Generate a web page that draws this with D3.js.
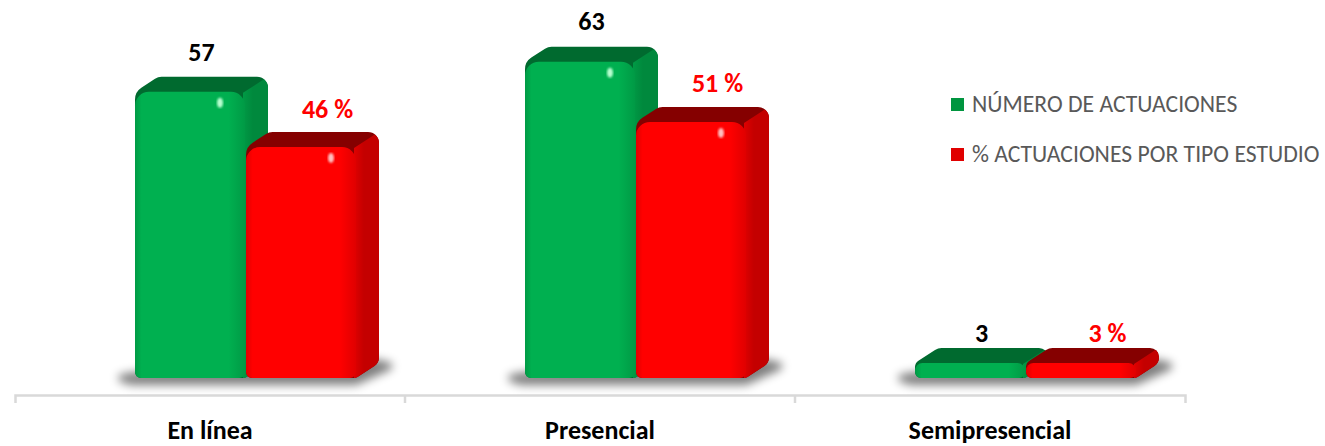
<!DOCTYPE html>
<html>
<head>
<meta charset="utf-8">
<script src="https://cdn.jsdelivr.net/npm/d3@7"></script>
<style>
  body { margin: 0; background: #fff; }
  svg { display: block; font-family: Carlito, Calibri, Lato, sans-serif; }
</style>
</head>
<body>
<svg id="chart" width="1325" height="446"></svg>
<script>
// data
var categories = ["En línea", "Presencial", "Semipresencial"];
var actuaciones = [57, 63, 3];
var porcentaje = [46, 51, 3];
var seriesNames = ["NÚMERO DE ACTUACIONES", "% ACTUACIONES POR TIPO ESTUDIO"];

var svg = d3.select("#chart"),
    base = 378,          // bottom of the bars
    axisY = 395,
    barW = 110,
    dx = 23, dy = 15;    // depth of the 3d look

var x = d3.scaleBand().domain(categories).range([15, 1185]);
var y = d3.scaleLinear().domain([0, 70]).range([base, 26.6]);
// excel puts the labels a bit off the bar tops, this follows it roughly
var labelY = d3.scaleLinear().domain([0, 70]).range([358, -7]);

var series = [
  {name: seriesNames[0], values: actuaciones, suffix: "", text: "#000",
   front: "#00b050", frontDark: "#009a45", side: "#00893d", cap: "#006a2f",
   spot: "#b8ffd0", legend: "#00953f", offset: 0, labelShift: 0},
  {name: seriesNames[1], values: porcentaje, suffix: " %", text: "#ff0000",
   front: "#ff0000", frontDark: "#e00000", side: "#c40000", cap: "#850000",
   spot: "#ffc0c0", legend: "#e00000", offset: 111, labelShift: 15}
];

var defs = svg.append("defs");
defs.append("filter").attr("id", "shadowBlur").attr("x", "-20%").attr("y", "-100%")
    .attr("width", "140%").attr("height", "300%")
  .append("feGaussianBlur").attr("stdDeviation", 5);
defs.append("filter").attr("id", "spotBlur")
  .append("feGaussianBlur").attr("stdDeviation", 1.1);

series.forEach(function(s, i) {
  var fg = defs.append("linearGradient").attr("id", "front" + i)
      .attr("x1", 0).attr("x2", 1).attr("y1", 0).attr("y2", 0);
  fg.append("stop").attr("offset", "0%").attr("stop-color", s.frontDark);
  fg.append("stop").attr("offset", "6%").attr("stop-color", s.front);
  fg.append("stop").attr("offset", "85%").attr("stop-color", s.front);
  fg.append("stop").attr("offset", "100%").attr("stop-color", s.frontDark);
  var sg = defs.append("linearGradient").attr("id", "side" + i)
      .attr("x1", 0).attr("x2", 1).attr("y1", 0).attr("y2", 0);
  sg.append("stop").attr("offset", "0%").attr("stop-color", s.frontDark);
  sg.append("stop").attr("offset", "30%").attr("stop-color", s.side);
  sg.append("stop").attr("offset", "100%").attr("stop-color", s.side);
});

function roundPoly(pts, radii) {
  var p = d3.path(), n = pts.length;
  p.moveTo((pts[n - 1][0] + pts[0][0]) / 2, (pts[n - 1][1] + pts[0][1]) / 2);
  for (var i = 0; i < n; i++) {
    var a = pts[i], b = pts[(i + 1) % n];
    p.arcTo(a[0], a[1], b[0], b[1], radii[i]);
  }
  p.closePath();
  return p.toString();
}

// axis
var axis = svg.append("g")
    .attr("transform", "translate(0," + axisY + ")")
    .call(d3.axisBottom(x).tickSize(0).tickSizeOuter(8));
axis.select(".domain").attr("stroke", "#d9d9d9").attr("stroke-width", 2.5);
axis.selectAll(".tick text")
    .attr("y", 44)
    .attr("dy", 0)
    .attr("fill", "#000")
    .attr("font-size", 26)
    .attr("font-weight", "bold")
    .attr("font-family", "Carlito, Calibri, Lato, sans-serif");
axis.selectAll(".sep")
  .data(categories.slice(1))
  .enter().append("line")
    .attr("class", "sep")
    .attr("x1", function(d) { return x(d); })
    .attr("x2", function(d) { return x(d); })
    .attr("y1", 0).attr("y2", 8)
    .attr("stroke", "#d9d9d9").attr("stroke-width", 2.5);

// soft shadows under each pair of bars
var groups = svg.selectAll(".grp")
  .data(categories)
  .enter().append("g")
    .attr("class", "grp");

groups.append("path")
    .attr("d", function(d) {
      var gx0 = x(d) + 120, gx1 = gx0 + 111 + barW + dx;
      return roundPoly([[gx0 - 30, base - 1], [gx0 - 4, base + 7], [gx1 - dx, base + 7],
                        [gx1 + 22, base - dy + 2], [gx1 - 4, base - dy - 4], [gx0, base - 6]],
                       [4, 4, 4, 4, 4, 4]);
    })
    .attr("fill", "#000")
    .attr("opacity", 0.5)
    .attr("filter", "url(#shadowBlur)");

series.forEach(function(s, si) {
  var bars = groups.append("g")
    .datum(function(d, i) { return {cat: d, v: s.values[i], id: si + "-" + i}; });

  function geo(d) {
    var x0 = x(d.cat) + 120 + s.offset, x1 = x0 + barW, yt = y(d.v);
    var h = base - yt, r = Math.min(14, h / 2);
    return {x0: x0, x1: x1, yt: yt, h: h, r: r};
  }

  // whole outline of the box (front + top + side), painted in the top colour
  function outline(d) {
    var g = geo(d);
    return roundPoly([[g.x0, base], [g.x0, g.yt], [g.x0 + dx, g.yt - dy], [g.x1 + dx, g.yt - dy],
                      [g.x1 + dx, base - dy], [g.x1, base]],
                     [Math.min(6, g.r), g.r, 12, Math.min(11, g.h * 0.6), 10, 6]);
  }

  bars.append("clipPath")
      .attr("id", function(d) { return "clip" + d.id; })
    .append("path")
      .attr("d", outline);

  bars.append("path")
      .attr("d", outline)
      .attr("fill", s.cap);

  // side face, clipped to the outline
  bars.append("path")
      .attr("clip-path", function(d) { return "url(#clip" + d.id + ")"; })
      .attr("d", function(d) {
        var g = geo(d), k = (dx + 10) / dx;
        var ax = g.x1 - 2, ay = g.yt + 1;
        return "M" + ax + "," + ay +
               "L" + (ax + dx * k) + "," + (ay - dy * k) +
               "L" + (ax + dx * k) + "," + (base + 10) +
               "L" + ax + "," + (base + 10) + "Z";
      })
      .attr("fill", "url(#side" + si + ")");

  // front face
  bars.append("path")
      .attr("d", function(d) {
        var g = geo(d);
        return roundPoly([[g.x0, g.yt], [g.x1, g.yt], [g.x1, base], [g.x0, base]],
                         [g.r, g.r, Math.min(6, g.r), Math.min(6, g.r)]);
      })
      .attr("fill", "url(#front" + si + ")");

  // little shine spot
  bars.filter(function(d) { return base - y(d.v) > 30; })
    .append("ellipse")
      .attr("cx", function(d) { return geo(d).x1 - 25; })
      .attr("cy", function(d) { return geo(d).yt + 11; })
      .attr("rx", 3).attr("ry", 5)
      .attr("fill", s.spot)
      .attr("filter", "url(#spotBlur)");

  // value labels
  bars.append("text")
      .attr("x", function(d) { var g = geo(d); return (g.x0 + g.x1) / 2 + dx / 2 + s.labelShift; })
      .attr("y", function(d) { return labelY(d.v); })
      .attr("text-anchor", "middle")
      .attr("font-size", 26)
      .attr("font-weight", "bold")
      .attr("fill", s.text)
      .text(function(d) { return d.v + s.suffix; });
});

// legend
var legend = svg.selectAll(".legend")
  .data(series)
  .enter().append("g")
    .attr("class", "legend")
    .attr("transform", function(d, i) { return "translate(951," + (98 + i * 50) + ")"; });

legend.append("rect")
    .attr("width", 13).attr("height", 13)
    .attr("fill", function(d) { return d.legend; });

legend.append("text")
    .attr("x", 21).attr("y", 14)
    .attr("font-size", 23.7)
    .attr("fill", "#595959")
    .text(function(d) { return d.name; });
</script>
</body>
</html>
